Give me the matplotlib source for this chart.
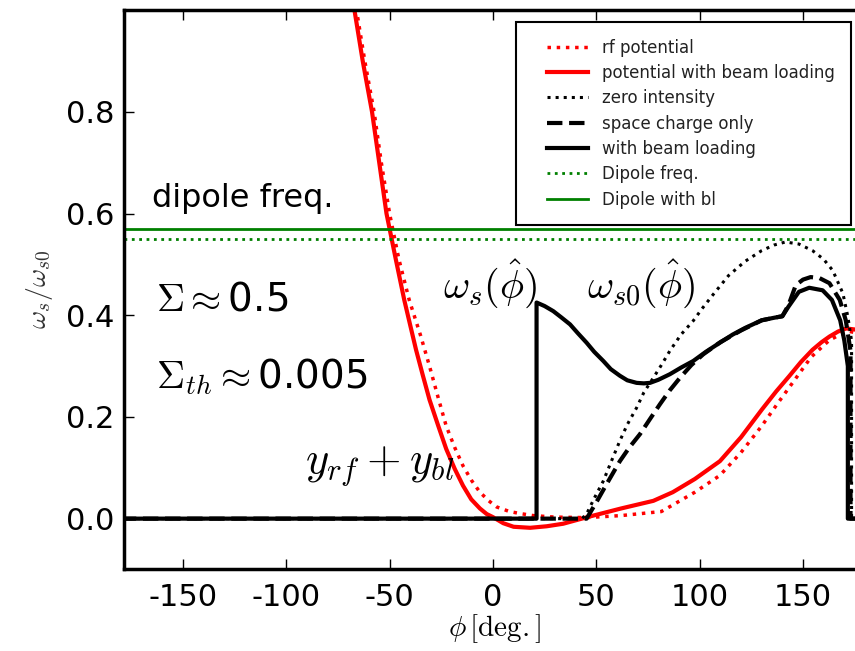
import matplotlib
matplotlib.use("Agg")
import matplotlib.pyplot as plt
from matplotlib.lines import Line2D
from matplotlib.legend_handler import HandlerLine2D

plt.rcParams['mathtext.fontset'] = 'cm'
plt.rcParams['axes.unicode_minus'] = False

# rf potential (red dotted)
rf_phi = [-70, -66, -62, -57.5, -54, -50, -45.5, -40.5, -35, -30.7, -26.5, -22.6, -18.5, -14.5, -10.5,
          -6.3, -2, 1.8, 8, 13.2, 19.5, 30, 45, 62, 81.5, 97.7, 109.8, 120, 130, 138, 146, 154,
          162.8, 168, 172.5, 180]
rf_val = [1.1, 1.0, 0.9, 0.8, 0.7, 0.6, 0.51, 0.43, 0.36, 0.30, 0.238, 0.182, 0.14, 0.104, 0.076,
          0.052, 0.035, 0.023, 0.014, 0.01, 0.006, 0.003, 0.002, 0.006, 0.014, 0.052, 0.085, 0.13,
          0.182, 0.228, 0.273, 0.318, 0.351, 0.362, 0.368, 0.362]

# potential with beam loading (red solid)
bl_phi = [-70, -67, -63, -58.5, -55, -51.5, -47, -42.9, -40, -37.2, -34, -30.7, -26.5, -22.6, -18.5,
          -14.5, -10.5, -6.3, -3, 0, 5, 10, 18, 26, 34, 45.7, 62, 77.6, 87, 97.7, 109.8, 120, 130.2,
          137, 143.3, 149, 154.6, 159, 162.8, 167, 170.9, 175, 180]
bl_val = [1.1, 1.0, 0.9, 0.8, 0.7, 0.6, 0.51, 0.43, 0.38, 0.332, 0.283, 0.234, 0.183, 0.137, 0.098,
          0.065, 0.038, 0.02, 0.009, 0.003, -0.009, -0.016, -0.018, -0.015, -0.01, 0.003, 0.02, 0.035,
          0.052, 0.078, 0.113, 0.16, 0.215, 0.25, 0.28, 0.308, 0.332, 0.347, 0.358, 0.368, 0.374,
          0.372, 0.366]

# zero intensity (black dotted)
zi_phi = [-180, 43, 45.3, 49, 53.4, 57, 61.4, 65, 69.5, 73, 77.6, 81.5, 85.6, 91, 96.9, 101, 106.6,
          114, 122, 130, 136, 141.5, 148, 154.6, 160, 164.4, 169.3, 171.7, 173.5, 173.5, 180]
zi_val = [0, 0, 0.009, 0.04, 0.074, 0.11, 0.153, 0.185, 0.218, 0.248, 0.277, 0.302, 0.33, 0.362,
          0.389, 0.412, 0.441, 0.478, 0.506, 0.527, 0.538, 0.544, 0.54, 0.527, 0.51, 0.488, 0.443,
          0.397, 0.35, 0, 0]

# space charge only (black dashed)
sc_phi = [-180, 45.3, 50, 55, 61.4, 66, 71.1, 76, 80.8, 85.5, 90.5, 96, 101.7, 110, 120, 130, 136,
          140, 143, 146.5, 150, 153.7, 158, 162.8, 167.8, 170.7, 173, 173, 180]
sc_val = [0, 0, 0.032, 0.068, 0.113, 0.14, 0.166, 0.196, 0.225, 0.252, 0.277, 0.302, 0.323, 0.347,
          0.37, 0.39, 0.395, 0.398, 0.42, 0.459, 0.47, 0.475, 0.473, 0.463, 0.43, 0.39, 0.33, 0, 0]

# with beam loading (black solid)
wb_phi = [-180, 21.1, 21.1, 25, 29.2, 33, 37.3, 41, 45.3, 49, 53.4, 57, 61.4, 65, 69.5, 73, 76,
          80, 85.6, 91, 96.9, 103, 109.8, 116, 122, 130, 136, 140, 143, 148, 153, 159.5, 164, 168,
          170, 171.7, 171.7, 180]
wb_val = [0, 0, 0.425, 0.418, 0.408, 0.396, 0.382, 0.365, 0.346, 0.328, 0.31, 0.294, 0.281, 0.272,
          0.267, 0.266, 0.267, 0.273, 0.284, 0.297, 0.31, 0.328, 0.346, 0.362, 0.375, 0.39, 0.395,
          0.398, 0.417, 0.446, 0.454, 0.449, 0.43, 0.39, 0.35, 0.3, 0, 0]

dipole_freq = 0.55
dipole_bl = 0.57

fig = plt.figure(figsize=(8.55, 6.51), dpi=100)
ax = fig.add_axes([0.145, 0.1252, 0.8667, 0.8593])

ax.plot(rf_phi, rf_val, color='red', ls=':', lw=2.5, label='rf potential')
ax.plot(bl_phi, bl_val, color='red', ls='-', lw=3, label='potential with beam loading')
ax.plot(zi_phi, zi_val, color='black', ls=':', lw=2.2, label='zero intensity')
ax.plot(sc_phi, sc_val, color='black', ls='--', lw=3, label='space charge only')
ax.plot(wb_phi, wb_val, color='black', ls='-', lw=3, label='with beam loading')
ax.axhline(dipole_freq, color='green', ls=':', lw=2, label='Dipole freq.')
ax.axhline(dipole_bl, color='green', ls='-', lw=2, label='Dipole with bl')

ax.set_xlim(-178.5, 180)
ax.set_ylim(-0.1, 1.0)
ax.set_xticks([-150, -100, -50, 0, 50, 100, 150])
ax.set_yticks([0.0, 0.2, 0.4, 0.6, 0.8])
ax.set_yticklabels(['0.0', '0.2', '0.4', '0.6', '0.8'])
ax.tick_params(direction='in', top=True, right=True, length=7, width=1, labelsize=22, pad=7)
ax.tick_params(axis='x', pad=10)
for s in ax.spines.values():
    s.set_linewidth(2.5)

ax.set_xlabel(r'$\phi\,[\mathrm{deg.}]$', fontsize=21, labelpad=0)
ax.set_ylabel(r'$\omega_s/\omega_{s0}$', fontsize=20, color='#333333', labelpad=8)

ax.text(-165, 0.612, 'dipole freq.', fontsize=23, va='baseline')
ax.text(-163, 0.43, r'$\Sigma \approx$0.5', fontsize=28, va='center')
ax.text(-163, 0.28, r'$\Sigma_{th} \approx$0.005', fontsize=28, va='center')
ax.text(-24.2, 0.461, r'$\omega_s(\hat{\phi})$', fontsize=29, va='center')
ax.text(45.5, 0.461, r'$\omega_{s0}(\hat{\phi})$', fontsize=29, va='center')
ax.text(-91, 0.104, r'$y_{rf}+y_{bl}$', fontsize=32, va='center')

leg = ax.legend(loc='upper left', bbox_to_anchor=(0.529, 0.979), borderaxespad=0, fontsize=12,
                fancybox=False, framealpha=1, handlelength=3.3, handletextpad=0.84,
                borderpad=1.0, labelspacing=0.44,
                handler_map={Line2D: HandlerLine2D(xpad=0.84)})
leg.get_frame().set_edgecolor('black')
leg.get_frame().set_linewidth(1.5)
for t in leg.get_texts():
    t.set_color('#222222')

fig.savefig('out.png', dpi=100)
